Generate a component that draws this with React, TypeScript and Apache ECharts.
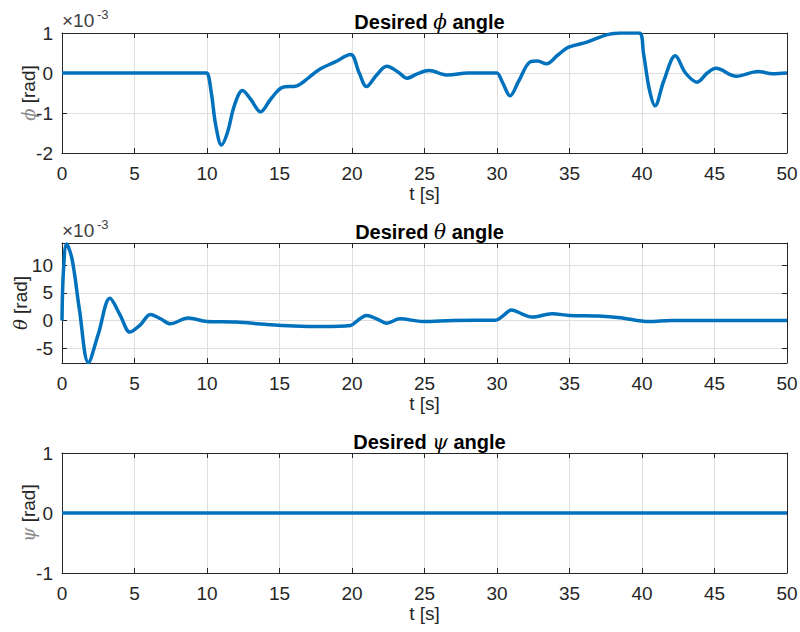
import React, { useEffect, useRef } from "react";
import * as echarts from "echarts";

// time axis ticks
const tTicks = [0, 5, 10, 15, 20, 25, 30, 35, 40, 45, 50];

// Desired phi angle (x1e-3 rad)
const phiT = [0, 9.9, 10.0, 10.3, 10.6, 11.0, 11.4, 11.9, 12.45, 13.0, 13.7, 14.4, 15.2, 16.2, 17.0, 17.8, 18.8, 19.9, 20.5, 21.0, 21.7, 22.4, 23.2, 23.8, 24.5, 25.3, 26.6, 28.0, 29.9, 30.0, 30.4, 30.9, 31.5, 32.3, 32.8, 33.4, 34.2, 34.9, 36.2, 37.6, 38.5, 39.8, 40.1, 40.5, 40.9, 41.5, 42.3, 43.0, 43.8, 44.5, 45.1, 46.5, 48.0, 49.0, 50];
const phiV = [0, 0, 0, -0.5, -1.3, -1.8, -1.5, -0.8, -0.44, -0.65, -0.97, -0.65, -0.36, -0.32, -0.12, 0.1, 0.27, 0.46, 0.0, -0.34, -0.05, 0.17, 0.02, -0.13, -0.02, 0.06, -0.05, 0.0, 0.0, 0.0, -0.25, -0.57, -0.2, 0.28, 0.3, 0.23, 0.45, 0.64, 0.77, 0.96, 1.0, 1.0, 0.5, -0.4, -0.82, -0.2, 0.43, 0.0, -0.23, 0.0, 0.12, -0.08, 0.04, -0.02, 0];

// Desired theta angle (x1e-3 rad)
const thetaT = [0, 0.1, 0.32, 0.7, 1.2, 1.82, 2.5, 3.31, 4.0, 4.69, 5.4, 6.1, 6.8, 7.45, 8.7, 10, 12, 14, 16, 18, 19.9, 20.4, 21.0, 21.7, 22.4, 23.3, 24.9, 27, 29.9, 30.4, 31.0, 31.7, 32.4, 33.8, 35, 37, 38.5, 40.5, 42, 45, 50];
const thetaV = [0, 9, 13.8, 11, 2, -7.6, -2.5, 4.0, 1.0, -2.1, -0.8, 1.08, 0.3, -0.6, 0.42, -0.2, -0.3, -0.7, -1.0, -1.1, -0.9, 0.0, 0.9, 0.3, -0.5, 0.3, -0.2, 0.0, 0.05, 0.8, 1.9, 1.2, 0.6, 1.2, 0.9, 0.8, 0.5, -0.2, 0.0, 0.0, 0.0];
const thetaTicks = [-5, 0, 5, 10];

// Desired psi angle (rad)
const psiT = [0, 50];
const psiV = [0, 0];

const FONT = "'Liberation Sans', Arial, sans-serif";
const SERIF = "'DejaVu Serif', 'Liberation Serif', serif";
const LINE = "#0072BD";
const BOX = "#262626";
const LABEL = "#262626";
const GRIDC = "#dedede";
const FS = 19;

const GL = 62;
const GW = 725;
const GH = 120;
const tops = [33, 243, 453];

export default function App() {
  const ref = useRef<HTMLDivElement>(null);
  useEffect(() => {
    if (!ref.current) return;
    const chart = echarts.init(ref.current, undefined, { renderer: "svg" });

    const grids = tops.map((t) => ({ left: GL, top: t, width: GW, height: GH, containLabel: false, outerBoundsMode: "none" }));

    const xAxes: any[] = [];
    const yAxes: any[] = [];
    tops.forEach((_, i) => {
      xAxes.push({
        type: "value", gridIndex: i, min: 0, max: 50, interval: 5, position: "bottom",
        name: "t [s]", nameLocation: "middle", nameGap: 31, nameMoveOverlap: false,
        nameTextStyle: { fontFamily: FONT, fontSize: FS, color: LABEL },
        axisLine: { show: true, onZero: false, lineStyle: { color: BOX, width: 1 } },
        axisTick: { show: true, inside: true, length: 5, lineStyle: { color: BOX } },
        axisLabel: { fontFamily: FONT, fontSize: FS, color: LABEL, margin: 11, formatter: (v: number) => (tTicks.includes(v) ? String(v) : "") },
        splitLine: { show: true, lineStyle: { color: GRIDC, width: 1 } },
      });
      xAxes.push({
        type: "value", gridIndex: i, min: 0, max: 50, interval: 5, position: "top",
        axisLine: { show: true, onZero: false, lineStyle: { color: BOX, width: 1 } },
        axisTick: { show: true, inside: true, length: 5, lineStyle: { color: BOX } },
        axisLabel: { show: false },
        splitLine: { show: false },
      });
    });

    const yDefs: any[] = [
      { min: -2, max: 1, interval: 1, name: "{i|ϕ} [rad]", gap: 24 },
      { min: -7.7, max: 14, splitNumber: 4, name: "{i|θ} [rad]", gap: 32 },
      { min: -1, max: 1, interval: 1, name: "{i|ψ} [rad]", gap: 24 },
    ];
    yDefs.forEach((d, i) => {
      const scaleOpts: any = { min: d.min, max: d.max };
      if (d.interval) scaleOpts.interval = d.interval;
      else scaleOpts.splitNumber = d.splitNumber;
      const fmt = (v: number) => (i === 1 ? (thetaTicks.includes(v) ? String(v) : "") : String(v));
      yAxes.push({
        type: "value", gridIndex: i, ...scaleOpts, position: "left",
        name: d.name, nameLocation: "middle", nameGap: d.gap, nameRotate: 90, nameMoveOverlap: false,
        nameTextStyle: {
          fontFamily: FONT, fontSize: FS, color: LABEL,
          rich: { i: { fontFamily: SERIF, fontStyle: "italic", fontSize: 18, color: i === 1 ? LABEL : "#8a8a8a" } },
        },
        axisLine: { show: true, onZero: false, lineStyle: { color: BOX, width: 1 } },
        axisTick: { show: true, inside: true, length: 5, lineStyle: { color: BOX } },
        axisLabel: { fontFamily: FONT, fontSize: FS, color: LABEL, margin: 9, formatter: fmt },
        splitLine: { show: true, lineStyle: { color: GRIDC, width: 1 } },
      });
      yAxes.push({
        type: "value", gridIndex: i, ...scaleOpts, position: "right",
        axisLine: { show: true, onZero: false, lineStyle: { color: BOX, width: 1 } },
        axisTick: { show: true, inside: true, length: 5, lineStyle: { color: BOX } },
        axisLabel: { show: false },
        splitLine: { show: false },
      });
    });

    const mk = (ts: number[], vs: number[]) => ts.map((t, k) => [t, vs[k]]);
    const seriesData = [mk(phiT, phiV), mk(thetaT, thetaV), mk(psiT, psiV)];

    const titleNames = ["ϕ", "θ", "ψ"];
    const titleTops = [7, 217, 427];

    const option: any = {
      animation: false,
      backgroundColor: "#ffffff",
      title: titleNames.map((g, i) => ({
        text: `{b|Desired }{g|${g}}{b| angle}`,
        left: GL + GW / 2, top: titleTops[i], textAlign: "center",
        textStyle: {
          rich: {
            b: { fontFamily: FONT, fontWeight: "bold", fontSize: 20, color: "#000" },
            g: { fontFamily: SERIF, fontStyle: "italic", fontWeight: "normal", fontSize: 20, color: "#000" },
          },
        },
      })),
      grid: grids,
      xAxis: xAxes,
      yAxis: yAxes,
      series: seriesData.map((d, i) => ({
        type: "line", xAxisIndex: i * 2, yAxisIndex: i * 2, data: d,
        smooth: 0.35, showSymbol: false, symbol: "none", clip: true,
        lineStyle: { color: LINE, width: 3.5 },
      })),
      graphic: [0, 1].flatMap((i) => [
        { type: "text", left: 62, top: tops[i] - 22, style: { text: "×10", font: `19px ${FONT}`, fill: "#404040" } },
        { type: "text", left: 97, top: tops[i] - 25, style: { text: "-3", font: `13px ${FONT}`, fill: "#404040" } },
      ]),
    };
    chart.setOption(option);
    return () => chart.dispose();
  }, []);
  return <div ref={ref} style={{ position: "fixed", left: 0, top: 0, width: 800, height: 632, background: "#fff" }} />;
}
